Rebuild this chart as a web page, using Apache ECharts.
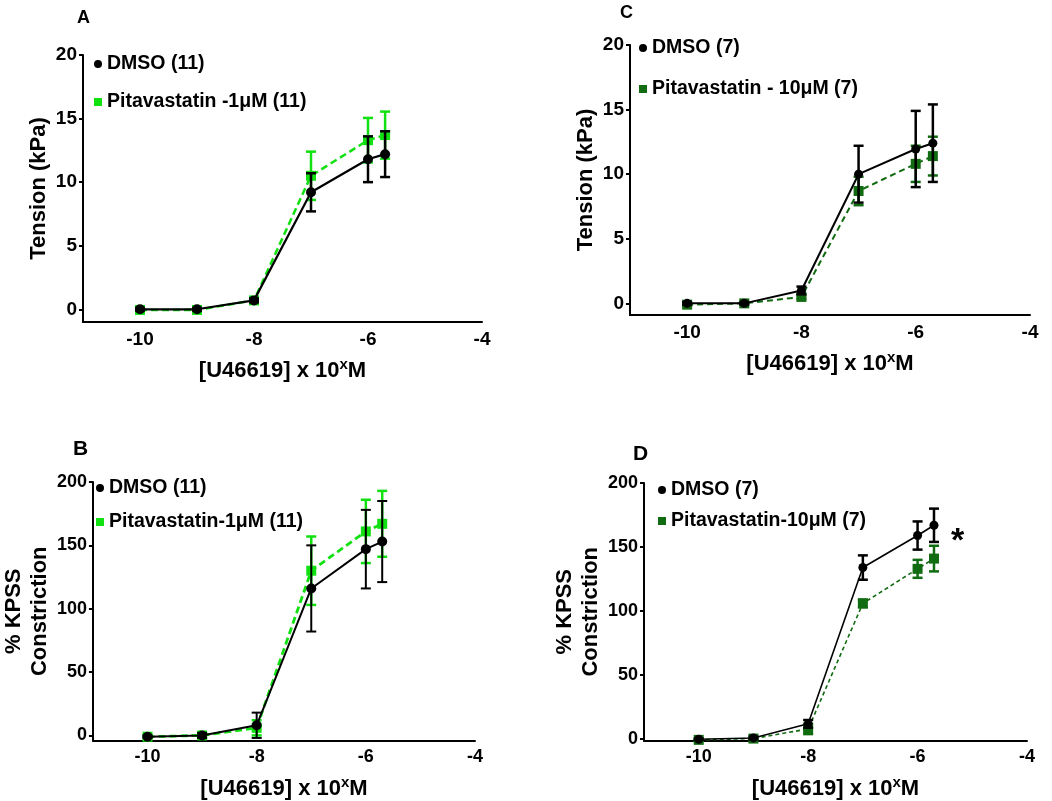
<!DOCTYPE html>
<html>
<head>
<meta charset="utf-8">
<script src="https://cdn.jsdelivr.net/npm/echarts@6/dist/echarts.min.js"></script>
<style>
html,body{margin:0;padding:0;background:#fff;}
#chart{width:1052px;height:801px;}
</style>
</head>
<body>
<div id="chart"></div>
<script>
// ---- data ----
var logConc = [-10, -9, -8, -7, -6, -5.7];

// Panel A: Tension (kPa), 1 µM
var dmsoA = [0, 0, 0.7, 9.2, 11.8, 12.2];
var dmsoAErr = [0.1, 0.1, 0.15, 1.5, 1.8, 1.8];
var pitaA = [-0.05, -0.05, 0.7, 10.5, 13.3, 13.7];
var pitaAErr = [0.1, 0.1, 0.15, 1.9, 1.75, 1.85];

// Panel C: Tension (kPa), 10 µM
var dmsoC = [0, 0, 1.0, 10.0, 11.95, 12.4];
var dmsoCErr = [0.1, 0.1, 0.3, 2.2, 2.95, 3.0];
var pitaC = [-0.1, 0, 0.5, 8.7, 10.8, 11.4];
var pitaCErr = [0.1, 0.05, 0.15, 1.1, 1.4, 1.5];

// Panel B: % KPSS, 1 µM
var dmsoB = [-1, 0, 8, 116, 147, 153];
var dmsoBErr = [1, 2, 10, 34, 31, 32];
var pitaB = [-1, 0, 6, 130, 161, 167];
var pitaBErr = [1, 1.5, 6, 27, 25, 26];

// Panel D: % KPSS, 10 µM
var dmsoD = [0, 1, 12, 134, 159, 167];
var dmsoDErr = [0.5, 1, 3, 9.5, 11, 13];
var pitaD = [-0.5, 0.5, 8, 106, 133, 141];
var pitaDErr = [0.5, 0.5, 4, 3, 7, 10];

var xTicks = [-10, -8, -6, -4];
var tensionTicks = [0, 5, 10, 15, 20];
var kpssTicks = [0, 50, 100, 150, 200];

var names = {
  A: ['DMSO (11)', 'Pitavastatin -1\u03bcM (11)'],
  B: ['DMSO (11)', 'Pitavastatin-1\u03bcM (11)'],
  C: ['DMSO (7)', 'Pitavastatin - 10\u03bcM (7)'],
  D: ['DMSO (7)', 'Pitavastatin-10\u03bcM (7)']
};

// ---- styles ----
var FONT = 'Liberation Sans, Arial, sans-serif';
var BRIGHT = '#11e011';
var DARK = '#116b11';

function pairs(ys) { return logConc.map(function (x, i) { return [x, ys[i]]; }); }
function errData(ys, es) { return logConc.map(function (x, i) { return [x, ys[i] - es[i], ys[i] + es[i]]; }); }

function errSeries(idx, ys, es, color, lw, cap, z) {
  return {
    type: 'custom', xAxisIndex: idx, yAxisIndex: idx, z: z, silent: true,
    data: errData(ys, es),
    renderItem: function (params, api) {
      var x = api.value(0);
      var lo = api.coord([x, api.value(1)]);
      var hi = api.coord([x, api.value(2)]);
      var st = { stroke: color, lineWidth: lw };
      return {
        type: 'group',
        children: [
          { type: 'line', shape: { x1: lo[0], y1: lo[1], x2: hi[0], y2: hi[1] }, style: st },
          { type: 'line', shape: { x1: lo[0] - cap, y1: lo[1], x2: lo[0] + cap, y2: lo[1] }, style: st },
          { type: 'line', shape: { x1: hi[0] - cap, y1: hi[1], x2: hi[0] + cap, y2: hi[1] }, style: st }
        ]
      };
    }
  };
}

function lineSeries(idx, name, ys, color, dashed, lw, symbol, size, dash, z) {
  return {
    type: 'line', name: name, xAxisIndex: idx, yAxisIndex: idx, z: z,
    data: pairs(ys), symbol: symbol, symbolSize: size,
    lineStyle: { color: color, width: lw, type: dashed ? dash : 'solid' },
    itemStyle: { color: color },
    emphasis: { disabled: true }, animation: false
  };
}

var grids = [
  { left: 83, top: 55, width: 399, height: 267 },      // A
  { left: 86, top: 482, width: 389, height: 259 },     // B
  { left: 630, top: 45, width: 400, height: 270 },     // C
  { left: 644, top: 483, width: 383, height: 258 }     // D
];
var yMins = [-1, -4, -0.9, -1];
var yMaxs = [20, 200, 20, 200];
var yTicksList = [tensionTicks, kpssTicks, tensionTicks, kpssTicks];
var yNames = ['Tension (kPa)', '% KPSS\nConstriction', 'Tension (kPa)', '% KPSS\nConstriction'];
var yGaps = [29, 38, 28, 34];
var tickFont = [19, 18, 19, 18];

var xAxes = [], yAxes = [];
for (var i = 0; i < 4; i++) {
  xAxes.push({
    type: 'value', gridIndex: i, min: -11, max: -4,
    axisLine: { show: true, onZero: false, lineStyle: { color: '#000', width: 2 } },
    axisTick: { show: false },
    splitLine: { show: false },
    axisLabel: { customValues: xTicks, color: '#000', fontSize: tickFont[i], fontWeight: 'bold', fontFamily: FONT, margin: 8 },
    name: '[U46619] x 10{sup|x}M',
    nameLocation: 'middle', nameGap: 35,
    nameTextStyle: {
      color: '#000', fontSize: 22, fontWeight: 'bold', fontFamily: FONT,
      rich: { sup: { fontSize: 15, fontWeight: 'bold', fontFamily: FONT, color: '#000', verticalAlign: 'top', padding: [0, 0, 12, 0] } }
    }
  });
  yAxes.push({
    type: 'value', gridIndex: i, min: yMins[i], max: yMaxs[i],
    axisLine: { show: true, onZero: false, lineStyle: { color: '#000', width: 2 } },
    axisTick: { show: true, customValues: yTicksList[i], length: 4, lineStyle: { color: '#000', width: 2 } },
    splitLine: { show: false },
    axisLabel: { customValues: yTicksList[i], color: '#000', fontSize: tickFont[i], fontWeight: 'bold', fontFamily: FONT, margin: 6 },
    name: yNames[i], nameLocation: 'middle', nameGap: yGaps[i],
    nameTextStyle: { color: '#000', fontSize: 22, fontWeight: 'bold', fontFamily: FONT, lineHeight: 26 }
  });
}

var series = [
  // A
  errSeries(0, pitaA, pitaAErr, BRIGHT, 2.5, 5, 1),
  errSeries(0, dmsoA, dmsoAErr, '#000', 2.5, 5, 3),
  lineSeries(0, names.A[1], pitaA, BRIGHT, true, 2.5, 'rect', 10, [7, 4], 2),
  lineSeries(0, names.A[0], dmsoA, '#000', false, 2.2, 'circle', 10, null, 4),
  // B
  errSeries(1, pitaB, pitaBErr, BRIGHT, 2.5, 5, 1),
  errSeries(1, dmsoB, dmsoBErr, '#000', 2, 5, 3),
  lineSeries(1, names.B[1], pitaB, BRIGHT, true, 2.8, 'rect', 10, [7, 4], 2),
  lineSeries(1, names.B[0], dmsoB, '#000', false, 2, 'circle', 10, null, 4),
  // C
  errSeries(2, pitaC, pitaCErr, DARK, 2.5, 5, 1),
  errSeries(2, dmsoC, dmsoCErr, '#000', 2.5, 5, 3),
  lineSeries(2, names.C[1], pitaC, DARK, true, 2, 'rect', 10, [6, 4], 2),
  lineSeries(2, names.C[0], dmsoC, '#000', false, 2, 'circle', 9, null, 4),
  // D
  errSeries(3, pitaD, pitaDErr, DARK, 2.5, 5, 1),
  errSeries(3, dmsoD, dmsoDErr, '#000', 2.5, 5, 3),
  lineSeries(3, names.D[1], pitaD, DARK, true, 1.6, 'rect', 10, [4, 3], 2),
  lineSeries(3, names.D[0], dmsoD, '#000', false, 1.6, 'circle', 9, null, 4)
];

// significance asterisk on panel D
series[15].markPoint = {
  silent: true, symbol: 'circle', symbolSize: 1,
  itemStyle: { color: 'rgba(0,0,0,0)' },
  label: { show: true, position: 'inside', formatter: '*', color: '#000', fontSize: 34, fontWeight: 'bold', fontFamily: FONT, offset: [0, 5] },
  data: [{ coord: [-5.27, 158] }]
};

function legend(left, top, gap, nm, color) {
  return {
    orient: 'vertical', left: left, top: top, itemGap: gap, padding: 0,
    itemWidth: 8, itemHeight: 8, itemTextGap: 8, selectedMode: false,
    textStyle: { color: '#000', fontSize: 19.5, fontWeight: 'bold', fontFamily: FONT },
    data: [
      { name: nm[0], icon: 'circle', itemStyle: { color: '#000' } },
      { name: nm[1], icon: 'rect', itemStyle: { color: color } }
    ]
  };
}

var titles = [
  { text: 'A', left: 77, top: 9, size: 18 },
  { text: 'B', left: 73, top: 439, size: 21 },
  { text: 'C', left: 620, top: 4, size: 18 },
  { text: 'D', left: 633, top: 444, size: 21 }
].map(function (t) {
  return { text: t.text, left: t.left, top: t.top, padding: 0, textStyle: { color: '#000', fontSize: t.size, fontWeight: 'bold', fontFamily: FONT } };
});

var chart = echarts.init(document.getElementById('chart'));
chart.setOption({
  backgroundColor: '#fff',
  animation: false,
  title: titles,
  grid: grids,
  xAxis: xAxes,
  yAxis: yAxes,
  legend: [
    legend(94, 54, 18, names.A, BRIGHT),
    legend(96, 478, 14, names.B, BRIGHT),
    legend(639, 38, 21, names.C, DARK),
    legend(658, 480, 11, names.D, DARK)
  ],
  series: series
});
</script>
</body>
</html>
